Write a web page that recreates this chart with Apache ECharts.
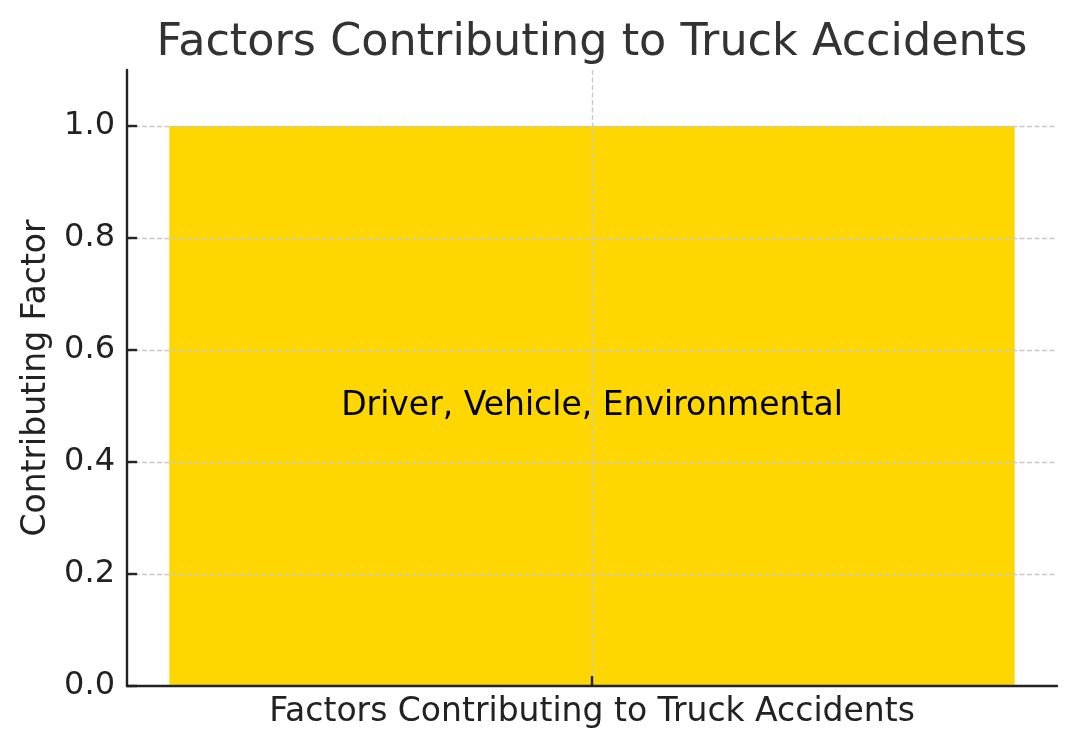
<!DOCTYPE html>
<html>
<head>
<meta charset="utf-8">
<script src="https://cdn.jsdelivr.net/npm/echarts@6/dist/echarts.min.js"></script>
<style>
  html, body { margin: 0; padding: 0; background: #fff; }
  #chart { width: 1077px; height: 749px; }
</style>
</head>
<body>
<div id="chart"></div>
<script>
// data
const categories = ['Factors Contributing to Truck Accidents'];
const values = [1.0];
const barLabels = ['Driver, Vehicle, Environmental'];
const yTicks = [0, 0.2, 0.4, 0.6, 0.8, 1.0];

const FONT = 'DejaVu Sans';
const dark = '#222';

const myChart = echarts.init(document.getElementById('chart'));

myChart.setOption({
  backgroundColor: '#fff',
  animation: false,
  title: {
    text: 'Factors Contributing to Truck Accidents',
    left: 587,
    textAlign: 'center',
    top: 16,
    textStyle: { fontFamily: FONT, fontSize: 44.5, fontWeight: 'normal', color: '#333' }
  },
  grid: { left: 127, right: 20, top: 70, bottom: 63 },
  xAxis: [
    {
      type: 'category',
      data: categories,
      z: 5,
      axisLine: { onZero: false, lineStyle: { color: dark, width: 2.4 } },
      axisTick: { show: true, inside: true, alignWithLabel: true, length: 10, lineStyle: { color: dark, width: 2.4 } },
      axisLabel: { margin: 10, fontFamily: FONT, fontSize: 33, color: dark },
      splitLine: { show: false }
    },
    {
      // only here to draw the vertical dashed grid line at the bar centre
      type: 'value',
      min: -0.44,
      max: 0.44,
      interval: 0.44,
      z: 4,
      axisLine: { show: false, onZero: false },
      axisTick: { show: false },
      axisLabel: { show: false },
      splitLine: {
        show: true, showMinLine: false, showMaxLine: false,
        lineStyle: { color: '#c8c8c8', width: 1.4, type: [5, 2.5] }
      }
    }
  ],
  yAxis: {
    type: 'value',
    min: 0,
    max: 1.1,
    interval: 0.2,
    z: 5,
    name: 'Contributing Factor',
    nameLocation: 'middle',
    nameGap: 73,
    nameTextStyle: { fontFamily: FONT, fontSize: 33, color: dark },
    axisLine: { show: true, onZero: false, lineStyle: { color: dark, width: 2.4 } },
    axisTick: { show: true, inside: true, length: 10, lineStyle: { color: dark, width: 2.4 } },
    axisLabel: {
      margin: 12, fontFamily: FONT, fontSize: 32, color: dark, showMaxLabel: false,
      formatter: v => (yTicks.indexOf(Math.round(v * 10) / 10) >= 0 ? v.toFixed(1) : '')
    },
    splitLine: {
      show: true, showMaxLine: false, showMinLine: false,
      lineStyle: { color: '#c8c8c8', width: 1.4, type: [5, 2.5] }
    }
  },
  series: [
    {
      type: 'bar',
      xAxisIndex: 0,
      data: values,
      barWidth: '90.9%',
      z: 2,
      itemStyle: { color: '#FFD700' },
      label: {
        show: true,
        position: 'inside',
        formatter: p => barLabels[p.dataIndex],
        fontFamily: FONT,
        fontSize: 33,
        color: '#000'
      }
    }
  ]
});
</script>
</body>
</html>
